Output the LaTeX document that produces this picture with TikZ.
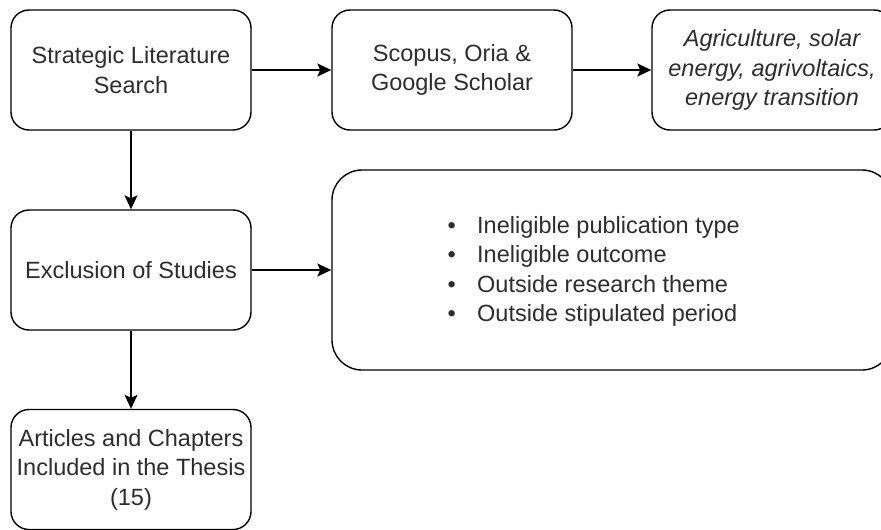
\documentclass[tikz,border=0pt]{standalone}
\usepackage{fontspec}
\setmainfont{Liberation Sans}
\usetikzlibrary{arrows.meta}
\definecolor{txt}{RGB}{45,45,45}
\tikzset{
  box/.style={draw=black, line width=1.4pt, fill=white, rounded corners=18pt,
    minimum width=240pt, minimum height=120pt, inner sep=0pt, align=center,
    text=txt, font=\fontsize{23.5}{29.5}\selectfont},
  bigbox/.style={box, rounded corners=30pt, minimum width=560pt, minimum height=200pt},
  arr/.style={line width=1.4pt, -{Stealth[length=14pt,width=13pt,inset=3pt]}},
  bl/.style={text=txt, font=\fontsize{23.5}{29.5}\selectfont, align=left, inner sep=0pt}
}
\begin{document}
\begin{tikzpicture}[x=1pt,y=-1pt]
\useasboundingbox (0,0) rectangle (881,530);
\clip (0,0) rectangle (881,530);
\node[box] (search) at (131,70) {Strategic Literature\\Search};
\node[box] (db) at (452,70) {Scopus, Oria \&\\Google Scholar};
\node[box] (kw) at (772,70) {\itshape Agriculture, solar\\\itshape energy, agrivoltaics,\\\itshape energy transition};
\node[box] (excl) at (131,270) {Exclusion of Studies};
\node[bigbox] (crit) at (612,270) {};
\node[bl, anchor=west] (list) at (447.5,271.5) {%
\makebox[29.5pt][l]{•}Ineligible publication type\\
\makebox[29.5pt][l]{•}Ineligible outcome\\
\makebox[29.5pt][l]{•}Outside research theme\\
\makebox[29.5pt][l]{•}Outside stipulated period};
\node[box] (incl) at (131,469.5) {Articles and Chapters\\Included in the Thesis\\(15)};
\draw[arr] (search) -- (db);
\draw[arr] (db) -- (kw);
\draw[arr] (search) -- (excl);
\draw[arr] (excl) -- (crit);
\draw[arr] (excl) -- (incl);
\end{tikzpicture}
\end{document}
